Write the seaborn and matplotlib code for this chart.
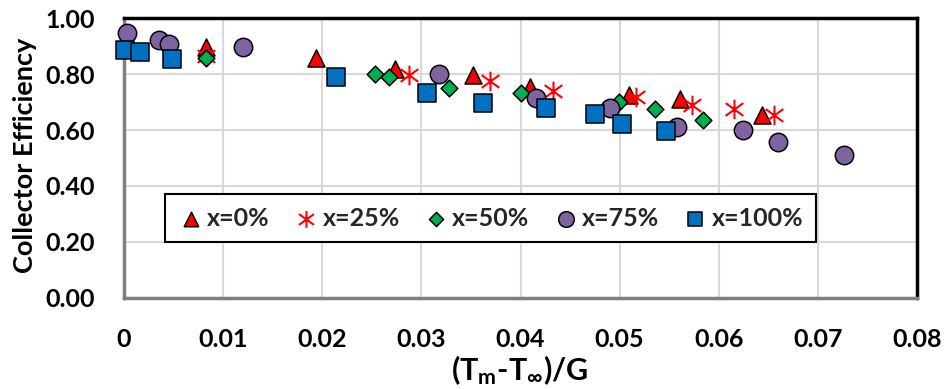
import numpy as np
import pandas as pd
import seaborn as sns
import matplotlib
matplotlib.use("Agg")
import matplotlib.pyplot as plt
from matplotlib.path import Path

# Measured collector efficiency vs reduced temperature difference, per mixture fraction x
x0_t = [0.0083, 0.0194, 0.0273, 0.0352, 0.0410, 0.0509, 0.0561, 0.0644]
x0_eff = [0.898, 0.859, 0.817, 0.797, 0.753, 0.725, 0.710, 0.654]

x25_t = [0.0083, 0.0288, 0.0369, 0.0433, 0.0517, 0.0573, 0.0615, 0.0656]
x25_eff = [0.866, 0.797, 0.776, 0.741, 0.717, 0.690, 0.674, 0.654]

x50_t = [0.0083, 0.0253, 0.0267, 0.0328, 0.0401, 0.0499, 0.0536, 0.0584]
x50_eff = [0.859, 0.800, 0.789, 0.752, 0.732, 0.702, 0.674, 0.636]

x75_t = [0.0003, 0.0035, 0.0045, 0.0120, 0.0318, 0.0416, 0.0490, 0.0558,
         0.0624, 0.0660, 0.0726]
x75_eff = [0.946, 0.922, 0.907, 0.896, 0.801, 0.714, 0.678, 0.612,
           0.600, 0.558, 0.511]

x100_t = [0.0001, 0.0016, 0.0048, 0.0214, 0.0306, 0.0362, 0.0426, 0.0475,
          0.0502, 0.0547]
x100_eff = [0.887, 0.880, 0.854, 0.791, 0.732, 0.698, 0.678, 0.656,
            0.621, 0.597]

series_names = ["x=0%", "x=25%", "x=50%", "x=75%", "x=100%"]
x_ticks = [0, 0.01, 0.02, 0.03, 0.04, 0.05, 0.06, 0.07, 0.08]
x_tick_labels = ["0", "0.01", "0.02", "0.03", "0.04", "0.05", "0.06", "0.07", "0.08"]
y_ticks = [0.0, 0.2, 0.4, 0.6, 0.8, 1.0]
y_tick_labels = ["0.00", "0.20", "0.40", "0.60", "0.80", "1.00"]

frames = []
for name, t, e in zip(series_names,
                      [x0_t, x25_t, x50_t, x75_t, x100_t],
                      [x0_eff, x25_eff, x50_eff, x75_eff, x100_eff]):
    frames.append(pd.DataFrame({"dT_G": t, "eff": e, "series": name}))
df = pd.concat(frames, ignore_index=True)

sns.set_theme(style="white")
plt.rcParams["font.family"] = ["Lato", "DejaVu Sans"]
plt.rcParams["font.weight"] = "bold"
plt.rcParams["mathtext.fontset"] = "custom"
plt.rcParams["mathtext.rm"] = "Lato:bold"
plt.rcParams["mathtext.it"] = "Lato:bold"
plt.rcParams["mathtext.bf"] = "Lato:bold"

# Star marker: a vertical stroke crossed by an X
star = Path([(0, -1), (0, 1), (-0.9, -0.65), (0.9, 0.65), (-0.9, 0.65), (0.9, -0.65)],
            [Path.MOVETO, Path.LINETO, Path.MOVETO, Path.LINETO, Path.MOVETO, Path.LINETO])

styles = {
    "x=0%":   dict(marker="^", color="#ff0000", s=150, edgecolor="black", linewidth=1.1),
    "x=25%":  dict(marker=star, color="#ff0000", s=200, edgecolor="#ff0000", linewidth=1.5),
    "x=50%":  dict(marker="D", color="#00b050", s=72, edgecolor="black", linewidth=1.1),
    "x=75%":  dict(marker="o", color="#8064a2", s=175, edgecolor="black", linewidth=1.1),
    "x=100%": dict(marker="s", color="#0070c0", s=160, edgecolor="black", linewidth=1.1),
}

fig = plt.figure(figsize=(9.49, 3.89), dpi=100)
ax = fig.add_axes([124 / 949, 1 - 297.7 / 389, 793 / 949, 279.4 / 389])

for i, name in enumerate(series_names):
    sub = df[df["series"] == name]
    sns.scatterplot(data=sub, x="dT_G", y="eff", ax=ax, label=name,
                    zorder=3 + i, clip_on=False, **styles[name])

ax.set_xlim(0, 0.08)
ax.set_ylim(0, 1.0)
ax.set_xticks(x_ticks)
ax.set_xticklabels(x_tick_labels)
ax.set_yticks(y_ticks)
ax.set_yticklabels(y_tick_labels)
ax.tick_params(axis="x", length=0, pad=22, labelsize=18)
ax.tick_params(axis="y", length=0, pad=21, labelsize=18)
for lab in ax.get_xticklabels() + ax.get_yticklabels():
    lab.set_fontweight("bold")
    lab.set_color("black")

ax.grid(True, color="#d9d9d9", linewidth=1.5)
ax.set_axisbelow(True)
ax.set_xlabel("")
ax.set_ylabel("")

for side in ["top", "right"]:
    ax.spines[side].set_color("black")
    ax.spines[side].set_linewidth(2.5)
for side in ["left", "bottom"]:
    ax.spines[side].set_color("#7f7f7f")
    ax.spines[side].set_linewidth(2.5)

fig.text(25 / 949, 1 - 155 / 389, "Collector Efficiency", rotation=90,
         ha="center", va="center", fontsize=19.5, fontweight="bold", color="black")
fig.text(520 / 949, 1 - 380 / 389, r"(T$_\mathrm{m}$-T$_\mathrm{\infty}$)/G",
         ha="center", va="baseline", fontsize=22, fontweight="bold", color="black")

leg = ax.legend(loc="center", bbox_to_anchor=(0.462, 0.2835), ncol=5,
                frameon=True, fancybox=False, framealpha=1, edgecolor="black",
                fontsize=18, markerscale=0.85, handletextpad=0.1,
                columnspacing=0.9, borderpad=0.5, handlelength=1.1)
leg.get_frame().set_linewidth(1.5)
for txt in leg.get_texts():
    txt.set_fontweight("bold")

fig.savefig("out.png", dpi=100, facecolor="white")
